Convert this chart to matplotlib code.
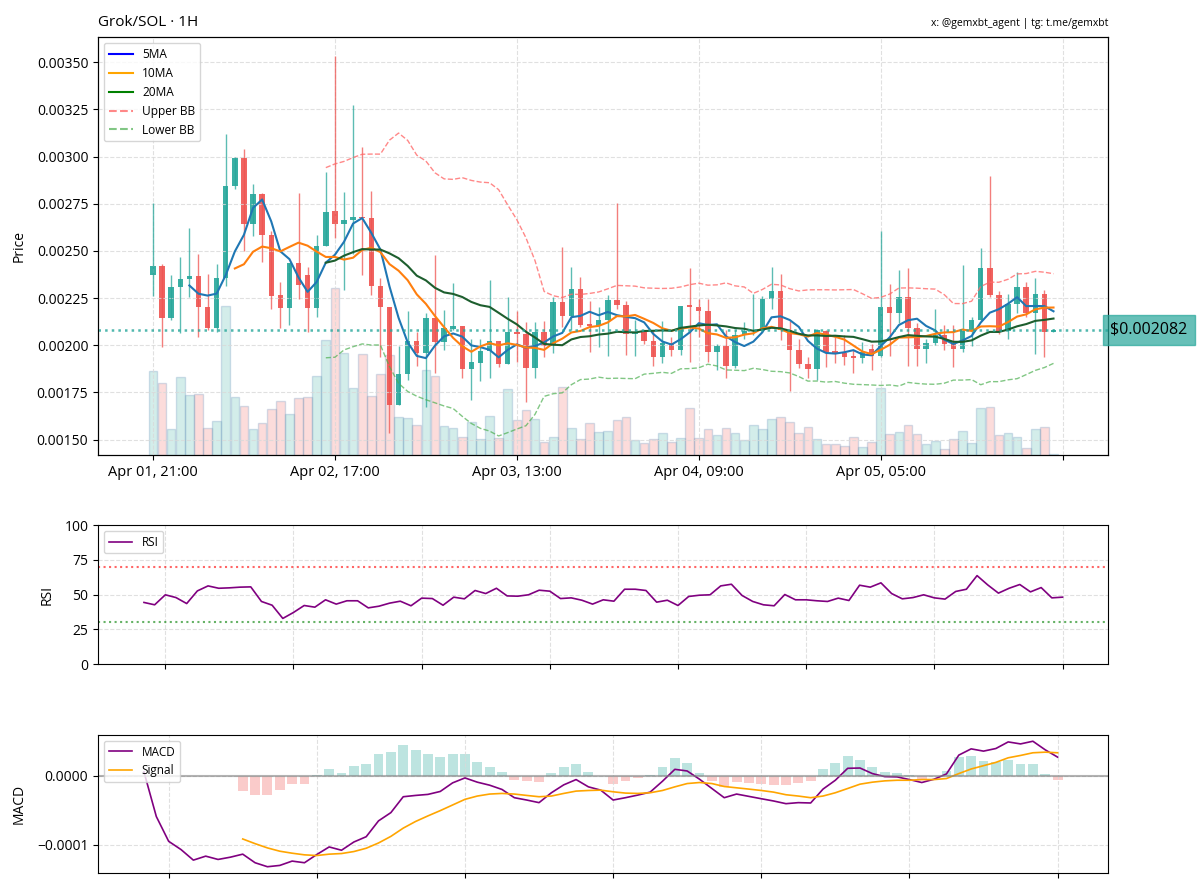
import datetime as dt
import matplotlib.pyplot as plt
import numpy as np
import pandas as pd
from matplotlib.lines import Line2D

plt.rcParams['font.family'] = ['Open Sans', 'DejaVu Sans']
plt.rcParams['font.size'] = 10
plt.rcParams['axes.labelpad'] = 7

UP = '#26a69a'
DOWN = '#ef5350'

# hourly candles, Apr 01 21:00 -> Apr 06 00:00
times = pd.date_range('2025-04-01 21:00', periods=100, freq='h')

opens = [0.002372, 0.002419, 0.002143, 0.002306, 0.002350, 0.002365, 0.002201, 0.002093, 0.002358, 0.002842,
         0.002991, 0.002643, 0.002804, 0.002582, 0.002266, 0.002197, 0.002437, 0.002370, 0.002197, 0.002525,
         0.002710, 0.002645, 0.002663, 0.002678, 0.002673, 0.002315, 0.002204, 0.001685, 0.001848, 0.002023,
         0.001956, 0.002145, 0.002017, 0.002087, 0.002100, 0.001872, 0.001907, 0.001970, 0.002023, 0.001900,
         0.002070, 0.002058, 0.001881, 0.002070, 0.001995, 0.002227, 0.002154, 0.002297, 0.002110, 0.002103,
         0.002135, 0.002241, 0.002215, 0.002058, 0.002070, 0.002023, 0.001935, 0.002012, 0.001977, 0.002213,
         0.002204, 0.002180, 0.001965, 0.001995, 0.001890, 0.002052, 0.002075, 0.002082, 0.002245, 0.002285,
         0.002079, 0.001977, 0.001900, 0.001874, 0.002075, 0.001970, 0.001960, 0.001942, 0.001930, 0.001982,
         0.001942, 0.002204, 0.002170, 0.002253, 0.002093, 0.001982, 0.002012, 0.002052, 0.002005, 0.001982,
         0.002075, 0.002131, 0.002407, 0.002267, 0.002075, 0.002218, 0.002306, 0.002170, 0.002271, 0.002070]
highs = [0.002752, 0.002432, 0.002372, 0.002467, 0.002620, 0.002484, 0.002380, 0.002432, 0.003119, 0.002996,
         0.003040, 0.002856, 0.002809, 0.002604, 0.002337, 0.002437, 0.002809, 0.002414, 0.002586, 0.002920,
         0.003533, 0.002813, 0.003272, 0.003052, 0.002816, 0.002358, 0.002204, 0.001995, 0.002183, 0.002070,
         0.002170, 0.002477, 0.002187, 0.002329, 0.002100, 0.002035, 0.002031, 0.002346, 0.002023, 0.002257,
         0.002180, 0.002122, 0.002122, 0.002128, 0.002257, 0.002519, 0.002416, 0.002362, 0.002232, 0.002204,
         0.002267, 0.002755, 0.002236, 0.002131, 0.002082, 0.002079, 0.002128, 0.002044, 0.002210, 0.002410,
         0.002245, 0.002245, 0.002009, 0.002079, 0.002082, 0.002122, 0.002271, 0.002262, 0.002414, 0.002376,
         0.002128, 0.002035, 0.001935, 0.002087, 0.002082, 0.002044, 0.002052, 0.001974, 0.002017, 0.002009,
         0.002606, 0.002327, 0.002397, 0.002407, 0.002117, 0.002035, 0.002192, 0.002105, 0.002105, 0.002423,
         0.002149, 0.002516, 0.002895, 0.002285, 0.002274, 0.002390, 0.002337, 0.002355, 0.002292, 0.002085]
lows = [0.002262, 0.001988, 0.002131, 0.002065, 0.002257, 0.002044, 0.002079, 0.002070, 0.002315, 0.002830,
        0.002498, 0.002577, 0.002442, 0.002192, 0.002093, 0.002105, 0.002245, 0.002070, 0.002152, 0.002525,
        0.002570, 0.002294, 0.002481, 0.002371, 0.002267, 0.001939, 0.001537, 0.001685, 0.001813, 0.001890,
        0.001673, 0.001851, 0.001974, 0.002079, 0.001825, 0.001712, 0.001808, 0.001825, 0.001886, 0.001900,
        0.001913, 0.001699, 0.001825, 0.001935, 0.001956, 0.002096, 0.002079, 0.002096, 0.001965, 0.001991,
        0.001942, 0.002192, 0.001947, 0.001942, 0.002005, 0.001890, 0.001904, 0.001942, 0.001947, 0.001912,
        0.002044, 0.001913, 0.001869, 0.001825, 0.001878, 0.002035, 0.002052, 0.002079, 0.002192, 0.002026,
        0.001755, 0.001878, 0.001825, 0.001813, 0.001886, 0.001904, 0.001895, 0.001851, 0.001904, 0.001869,
        0.001935, 0.001942, 0.002117, 0.001890, 0.001890, 0.001904, 0.002000, 0.001974, 0.001886, 0.001965,
        0.001995, 0.002128, 0.002253, 0.002061, 0.002035, 0.002170, 0.002152, 0.001953, 0.001935, 0.002068]
closes = [0.002419, 0.002143, 0.002306, 0.002350, 0.002365, 0.002201, 0.002093, 0.002358, 0.002842, 0.002991,
          0.002643, 0.002804, 0.002582, 0.002262, 0.002197, 0.002437, 0.002320, 0.002197, 0.002528, 0.002707,
          0.002645, 0.002663, 0.002682, 0.002673, 0.002315, 0.002204, 0.001685, 0.001848, 0.002023, 0.001956,
          0.002145, 0.002017, 0.002093, 0.002100, 0.001872, 0.001913, 0.001970, 0.002023, 0.001900, 0.002070,
          0.002058, 0.001881, 0.002070, 0.001995, 0.002227, 0.002154, 0.002297, 0.002105, 0.002103, 0.002135,
          0.002241, 0.002213, 0.002058, 0.002070, 0.002023, 0.001935, 0.002012, 0.001977, 0.002210, 0.002204,
          0.002180, 0.001965, 0.001995, 0.001890, 0.002052, 0.002075, 0.002082, 0.002245, 0.002285, 0.002079,
          0.001977, 0.001900, 0.001874, 0.002079, 0.001965, 0.001960, 0.001935, 0.001930, 0.001965, 0.001942,
          0.002204, 0.002170, 0.002253, 0.002093, 0.001982, 0.002012, 0.002052, 0.002005, 0.001982, 0.002075,
          0.002131, 0.002407, 0.002267, 0.002075, 0.002218, 0.002306, 0.002170, 0.002271, 0.002070, 0.002082]
volumes = [84, 71.7, 25.7, 77.3, 59.7, 60.3, 26.7, 34, 149, 57.7,
           49.3, 25.7, 31.7, 45.7, 54, 40.7, 56.7, 58.3, 79, 115,
           166.7, 101.7, 66.7, 100.7, 59, 80.7, 100, 38.3, 37.3, 30,
           85, 79, 29, 26.7, 18.3, 33.3, 16, 39, 17.3, 65.7,
           35, 45, 35.7, 13.3, 18.3, 67.7, 27.3, 15.7, 32.3, 22.7,
           24, 35, 38.3, 15, 11.7, 16, 22.3, 12.7, 16.7, 46.7,
           16.7, 26, 20, 27.3, 21.7, 15, 30, 26, 35.7, 38.3,
           32.7, 21.7, 28.3, 15.7, 10.7, 10.7, 9, 17.7, 8.3, 13.3,
           66.7, 20.7, 23.3, 30, 21, 10.7, 14, 6.3, 16.3, 24.3,
           12.3, 46.7, 48.3, 20, 21.7, 17.7, 7.3, 25.7, 28.3, 0.5]

# RSI from Apr 02 10:00 (87 values)
rsi = [44.3, 42.6, 49.8, 47.8, 43.5, 52.6, 56.2, 54.5, 54.8, 55.3,
       55.5, 45.0, 42.3, 32.8, 37.1, 42.1, 40.9, 46.2, 43.1, 45.5,
       45.5, 40.4, 41.6, 43.8, 45.2, 41.9, 47.4, 47.1, 42.3, 48.1,
       46.9, 52.9, 50.7, 54.5, 49.0, 48.8, 49.8, 53.1, 52.4, 47.1,
       47.6, 45.9, 43.1, 46.2, 45.2, 53.8, 53.8, 52.9, 44.5, 45.9,
       42.1, 48.6, 49.5, 49.8, 56.2, 57.4, 49.3, 45.0, 42.6, 41.9,
       50.0, 46.2, 46.2, 45.5, 45.0, 47.4, 45.7, 56.7, 55.3, 58.4,
       50.7, 46.9, 47.8, 49.8, 47.6, 46.7, 52.2, 53.8, 63.6, 56.9,
       51.0, 54.5, 57.2, 51.9, 55.0, 47.6, 48.1]

# MACD (x1e-3) from Apr 02 22:00 (75 values), signal from Apr 03 06:00 (67 values)
macd = [0.0058, -0.0591, -0.0952, -0.1072, -0.1226, -0.1168, -0.1216, -0.1183, -0.1139, -0.1264,
        -0.1322, -0.1303, -0.1240, -0.1264, -0.1144, -0.1034, -0.1082, -0.0962, -0.0885, -0.0654,
        -0.0534, -0.0303, -0.0284, -0.0269, -0.0226, -0.0101, -0.0029, -0.0091, -0.0135, -0.0197,
        -0.0317, -0.0351, -0.0389, -0.0245, -0.0130, -0.0053, -0.0159, -0.0207, -0.0351, -0.0317,
        -0.0279, -0.0236, -0.0077, 0.0096, 0.0072, -0.0048, -0.0183, -0.0317, -0.0264, -0.0298,
        -0.0332, -0.0365, -0.0404, -0.0389, -0.0394, -0.0192, -0.0063, 0.0111, 0.0115, 0.0034,
        -0.0010, -0.0014, -0.0053, -0.0096, -0.0048, 0.0029, 0.0303, 0.0394, 0.0361, 0.0399,
        0.0495, 0.0466, 0.0505, 0.0380, 0.0274]
signal = [-0.0918, -0.0986, -0.1048, -0.1096, -0.1125, -0.1149, -0.1159, -0.1139, -0.1130, -0.1101,
          -0.1053, -0.0976, -0.0880, -0.0760, -0.0663, -0.0582, -0.0505, -0.0423, -0.0341, -0.0293,
          -0.0264, -0.0255, -0.0264, -0.0284, -0.0303, -0.0293, -0.0255, -0.0221, -0.0212, -0.0207,
          -0.0231, -0.0250, -0.0255, -0.0245, -0.0212, -0.0159, -0.0111, -0.0096, -0.0111, -0.0154,
          -0.0173, -0.0192, -0.0212, -0.0236, -0.0274, -0.0293, -0.0317, -0.0293, -0.0245, -0.0183,
          -0.0120, -0.0091, -0.0072, -0.0063, -0.0063, -0.0053, -0.0053, -0.0038, 0.0034, 0.0101,
          0.0149, 0.0197, 0.0264, 0.0298, 0.0337, 0.0346, 0.0337]

n = len(closes)
x = np.arange(n)
o = np.array(opens)
h = np.array(highs)
l = np.array(lows)
c = np.array(closes)
v = np.array(volumes)
close_s = pd.Series(c)
ma5 = close_s.rolling(5).mean()
ma10 = close_s.rolling(10).mean()
ma20 = close_s.rolling(20).mean()
std20 = close_s.rolling(20).std()
bb_up = ma20 + 2 * std20
bb_lo = ma20 - 2 * std20
cols = [UP if cc >= oo else DOWN for oo, cc in zip(o, c)]

fig = plt.figure(figsize=(12, 8.9), dpi=100)
ax = fig.add_axes([0.0817, 0.4888, 0.842, 0.4696])
ax_rsi = fig.add_axes([0.0817, 0.2539, 0.842, 0.1562])
ax_macd = fig.add_axes([0.0817, 0.0191, 0.842, 0.1551])

grid_kw = dict(linestyle='--', color='#d9d9d9', linewidth=0.8, alpha=0.8)

# volume on a twin axis, behind the candles
axv = ax.twinx()
axv.bar(x, v, width=0.95, color=[(0.15, 0.65, 0.6, 0.2) if cc == UP else (0.94, 0.33, 0.31, 0.2) for cc in cols],
        edgecolor=(0.45, 0.6, 0.75, 0.3), linewidth=1)
axv.set_ylim(0, v.max() * 2.5)
axv.set_yticks([])
ax.set_zorder(axv.get_zorder() + 1)
ax.patch.set_visible(False)

# candles
ax.vlines(x, l, h, colors=cols, linewidth=1, alpha=0.75)
body = np.maximum(np.abs(c - o), 0.000008)
ax.bar(x, body, bottom=np.minimum(o, c), width=0.6, color=cols, alpha=0.9)

ax.plot(x, ma5, color='#1f77b4', linewidth=1.5)
ax.plot(x, ma10, color='#ff7f0e', linewidth=1.5)
ax.plot(x, ma20, color='#1d5e2e', linewidth=1.5)
ax.plot(x, bb_up, color='#ff6b6b', linestyle='--', linewidth=1, alpha=0.8)
ax.plot(x, bb_lo, color='#4caf50', linestyle='--', linewidth=1, alpha=0.7)

last = c[-1]
ax.axhline(last, color=UP, linestyle=':', linewidth=1.8, alpha=0.8)
ax.text(1.002, last, f'${last:.6f}', transform=ax.get_yaxis_transform(), ha='left', va='center',
        fontsize=11.5, bbox=dict(boxstyle='square,pad=0.45', facecolor=UP, edgecolor=UP, alpha=0.7))

handles = [Line2D([0], [0], color='blue', lw=1.5, label='5MA'),
           Line2D([0], [0], color='orange', lw=1.5, label='10MA'),
           Line2D([0], [0], color='green', lw=1.5, label='20MA'),
           Line2D([0], [0], color='#ff6b6b', lw=1.5, ls='--', alpha=0.8, label='Upper BB'),
           Line2D([0], [0], color='#4caf50', lw=1.5, ls='--', alpha=0.7, label='Lower BB')]
ax.legend(handles=handles, loc='upper left', fontsize=8.6)

ticks = list(range(0, n + 1, 20))
ax.set_xticks(ticks)
ax.set_xticklabels([times[i].strftime('%b %d, %H:%M') if i < n else '' for i in ticks], fontsize=10.5)
ax.set_xlim(-6.04, 105.04)
ax.set_ylabel('Price')
ax.grid(True, **grid_kw)
ax.set_title('Grok/SOL · 1H', loc='left', fontsize=11, pad=8)
ax.set_title('x: @gemxbt_agent | tg: t.me/gemxbt', loc='right', fontsize=7.5, pad=8)

# RSI
rsi_t = times[13:].to_pydatetime()
ax_rsi.plot(rsi_t, rsi, color='purple', linewidth=1.2, label='RSI')
ax_rsi.axhline(70, color='red', linestyle=':', linewidth=1.5, alpha=0.6)
ax_rsi.axhline(30, color='green', linestyle=':', linewidth=1.5, alpha=0.6)
ax_rsi.set_ylim(0, 100)
ax_rsi.set_yticks([0, 25, 50, 75, 100])
ax_rsi.set_ylabel('RSI')
ax_rsi.tick_params(labelbottom=False)
ax_rsi.grid(True, **grid_kw)
ax_rsi.legend(loc='upper left', fontsize=8.5)

# MACD
macd_t = times[25:].to_pydatetime()
sig_t = times[33:].to_pydatetime()
macd_v = np.array(macd) * 1e-3
sig_v = np.array(signal) * 1e-3
hist = macd_v[8:] - sig_v
ax_macd.bar(sig_t, hist, width=dt.timedelta(minutes=48),
            color=[UP if hh >= 0 else DOWN for hh in hist], alpha=0.3)
ax_macd.plot(macd_t, macd_v, color='purple', linewidth=1.2, label='MACD')
ax_macd.plot(sig_t, sig_v, color='orange', linewidth=1.2, label='Signal')
ax_macd.axhline(0, color='gray', linewidth=1.5, alpha=0.6)
ax_macd.set_yticks([-0.0001, 0.0])
ax_macd.set_ylabel('MACD')
ax_macd.tick_params(labelbottom=False)
ax_macd.grid(True, **grid_kw)
ax_macd.legend(loc='upper left', fontsize=8.5)

fig.savefig('out.png', dpi=100)
